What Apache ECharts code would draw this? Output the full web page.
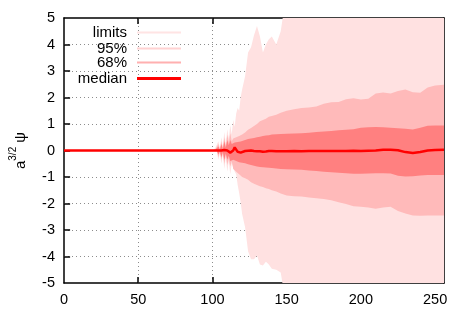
<!DOCTYPE html>
<html>
<head>
<meta charset="utf-8">
<script src="https://cdn.jsdelivr.net/npm/echarts@6/dist/echarts.min.js"></script>
<style>
  html, body { margin: 0; padding: 0; background: #fff; }
  #chart { width: 471px; height: 330px; }
</style>
</head>
<body>
<div id="chart"></div>
<script>
// x positions of the samples
const xs = [0, 100, 101, 102, 103, 104, 105, 106, 107, 108, 109, 110, 111, 112, 113, 114, 115, 116, 117, 118, 119, 120,
  122, 124, 126, 128, 130, 132, 134, 136, 138, 140, 143, 146, 150, 155, 160, 165, 170, 175, 180, 185, 190, 195, 200,
  205, 210, 215, 220, 225, 230, 235, 240, 245, 250, 256];

// limits band
const limHi = [0, 0, 0.05, 0.1, 0.05, 0.35, 0.1, 0.5, 0.15, 0.7, 0.25, 0.8, 0.45, 0.95, 0.6, 1.15, 0.9, 1.4, 1.6, 1.5, 2.0, 2.3,
  2.8, 3.7, 3.9, 4.35, 4.7, 4.3, 3.7, 4.0, 4.2, 4.3, 4.0, 4.5, 6, 6, 6, 6, 6, 6, 6, 6, 6, 6, 6,
  6, 6, 6, 6, 6, 6, 6, 6, 6, 6, 6];
const limLo = [0, 0, -0.05, -0.1, -0.05, -0.35, -0.1, -0.5, -0.15, -0.7, -0.25, -0.8, -0.4, -0.9, -0.5, -0.6, -0.8, -0.9, -1.3, -1.6, -1.95, -2.4,
  -2.9, -3.8, -4.1, -4.1, -3.96, -4.3, -4.34, -4.2, -4.3, -4.46, -4.5, -4.6, -6, -6, -6, -6, -6, -6, -6, -6, -6, -6, -6,
  -6, -6, -6, -6, -6, -6, -6, -6, -6, -6, -6];

// 95% band
const p95Hi = [0, 0, 0.02, 0.05, 0.02, 0.25, 0.05, 0.35, 0.1, 0.5, 0.15, 0.6, 0.3, 0.65, 0.35, 0.45, 0.4, 0.5, 0.45, 0.55, 0.5, 0.6,
  0.68, 0.78, 0.85, 0.92, 1.0, 1.1, 1.15, 1.2, 1.27, 1.3, 1.35, 1.42, 1.5, 1.56, 1.6, 1.62, 1.66, 1.76, 1.82, 1.83, 1.93, 1.97, 1.92,
  1.95, 2.15, 2.19, 2.15, 2.25, 2.3, 2.2, 2.18, 2.38, 2.45, 2.48];
const p95Lo = [0, 0, -0.02, -0.05, -0.02, -0.25, -0.05, -0.35, -0.1, -0.5, -0.15, -0.55, -0.3, -0.6, -0.4, -0.7, -0.75, -0.8, -0.85, -0.9, -0.95, -1.0,
  -1.05, -1.1, -1.2, -1.25, -1.3, -1.35, -1.38, -1.42, -1.45, -1.5, -1.55, -1.62, -1.7, -1.73, -1.74, -1.77, -1.8, -1.83, -1.88, -1.95, -2.02, -2.1, -2.12,
  -2.15, -2.2, -2.15, -2.12, -2.28, -2.38, -2.45, -2.46, -2.45, -2.45, -2.45];

// 68% band
const p68Hi = [0, 0, 0.01, 0.03, 0.01, 0.15, 0.03, 0.25, 0.05, 0.35, 0.1, 0.4, 0.2, 0.4, 0.25, 0.3, 0.3, 0.3, 0.32, 0.33, 0.34, 0.35,
  0.4, 0.43, 0.45, 0.47, 0.5, 0.52, 0.55, 0.57, 0.58, 0.6, 0.61, 0.62, 0.63, 0.64, 0.65, 0.67, 0.7, 0.72, 0.74, 0.76, 0.78, 0.8, 0.86,
  0.88, 0.89, 0.88, 0.86, 0.84, 0.82, 0.79, 0.86, 0.93, 0.94, 0.94];
const p68Lo = [0, 0, -0.01, -0.03, -0.01, -0.15, -0.03, -0.25, -0.05, -0.35, -0.1, -0.35, -0.2, -0.4, -0.3, -0.35, -0.38, -0.4, -0.42, -0.44, -0.45, -0.46,
  -0.48, -0.52, -0.55, -0.58, -0.6, -0.62, -0.63, -0.64, -0.65, -0.66, -0.68, -0.7, -0.71, -0.72, -0.73, -0.75, -0.77, -0.8, -0.82, -0.84, -0.86, -0.88, -0.88,
  -0.87, -0.86, -0.86, -0.87, -0.95, -0.98, -0.97, -0.94, -0.92, -0.92, -0.92];

// median
const median = [0, 0, 0, 0, 0, 0, 0.01, 0, -0.01, 0.02, 0, 0, -0.03, -0.08, -0.1, 0, 0.12, 0.05, -0.05, -0.1, -0.08, -0.03,
  -0.02, -0.01, 0, -0.02, -0.03, -0.03, -0.05, -0.04, -0.02, -0.02, -0.03, -0.03, -0.03, -0.02, -0.03, -0.02, -0.02, -0.02, -0.02, -0.02, -0.02, -0.01, -0.02,
  -0.01, 0, 0.03, 0.03, 0.01, -0.06, -0.09, -0.06, 0, 0.02, 0.03];

const xTicks = [0, 50, 100, 150, 200, 250];
const yTicks = [-5, -4, -3, -2, -1, 0, 1, 2, 3, 4, 5];
const yGrid = [-4, -3, -2, -1, 1, 2, 3, 4];

const FONT = '"Liberation Sans", Arial, sans-serif';
const colLim = '#ffe1e1', col95 = '#ffbaba', col68 = '#ff8080', colMed = '#ff0000';
const X_MIN = 0, X_MAX = 256, Y_MIN = -5, Y_MAX = 5;
const TICK_X = 4.1, TICK_Y = 0.23;   // inward tick length in axis units (about 6px)

// value first, x second, so that the stack runs along y
const yx = arr => arr.map((v, i) => [v, xs[i]]);
const yxDiff = (hi, lo) => hi.map((v, i) => [+(v - lo[i]).toFixed(3), xs[i]]);

function band(name, stack, lo, hi, color) {
  return [
    { name: stack + '_base', type: 'line', stack: stack, stackStrategy: 'all',
      encode: { x: 1, y: 0 }, data: yx(lo),
      symbol: 'none', lineStyle: { width: 0, opacity: 0 }, silent: true },
    { name: name, type: 'line', stack: stack, stackStrategy: 'all',
      encode: { x: 1, y: 0 }, data: yxDiff(hi, lo),
      symbol: 'none', lineStyle: { width: 0, opacity: 0 }, itemStyle: { color: color },
      areaStyle: { color: color, opacity: 1 }, silent: true }
  ];
}

function legendRow(name, top, color, h) {
  return {
    data: [{ name: name, itemStyle: { color: color } }],
    right: 290, top: top, padding: 0, align: 'right', orient: 'vertical',
    icon: 'rect', itemWidth: 44, itemHeight: h, selectedMode: false,
    textStyle: { fontFamily: FONT, fontSize: 15, color: '#000', padding: [0, 5, 0, 0] }
  };
}

const dotted = { color: '#8c8c8c', type: [1, 3], width: 1 };
const tickStyle = { color: '#000', type: 'solid', width: 1.5 };

// inward ticks on all four sides (gnuplot style mirrored ticks)
const tickSegs = [].concat(
  xTicks.slice(1).map(v => [{ coord: [v, Y_MIN], lineStyle: tickStyle }, { coord: [v, Y_MIN + TICK_Y] }]),
  xTicks.slice(1).map(v => [{ coord: [v, Y_MAX], lineStyle: tickStyle }, { coord: [v, Y_MAX - TICK_Y] }]),
  yTicks.slice(1, -1).map(v => [{ coord: [X_MIN, v], lineStyle: tickStyle }, { coord: [X_MIN + TICK_X, v] }]),
  yTicks.slice(1, -1).map(v => [{ coord: [X_MAX, v], lineStyle: tickStyle }, { coord: [X_MAX - TICK_X, v] }])
);

const chart = echarts.init(document.getElementById('chart'), null, { renderer: 'canvas' });
const option = {
  animation: false,
  grid: { left: 64, right: 27, top: 18, bottom: 47 },
  legend: [
    legendRow('limits', 25, '#ffe4e4', 2),
    legendRow('95%', 41, '#ffd2d2', 2),
    legendRow('68%', 55, '#ffb0b0', 2),
    legendRow('median', 71, colMed, 3)
  ],
  xAxis: [{
    type: 'value', position: 'bottom', min: X_MIN, max: X_MAX, interval: 50,
    axisLine: { onZero: false, lineStyle: { color: '#000', width: 1.5 } },
    axisTick: { show: false },
    axisLabel: { fontFamily: FONT, fontSize: 14.5, color: '#000', margin: 9,
      formatter: v => xTicks.indexOf(v) >= 0 ? String(v) : '' },
    splitLine: { show: false }
  }, {
    type: 'value', position: 'top', min: X_MIN, max: X_MAX, interval: 50,
    axisLine: { show: true, onZero: false, lineStyle: { color: '#000', width: 1.5 } },
    axisTick: { show: false }, axisLabel: { show: false }, splitLine: { show: false }
  }],
  yAxis: [{
    type: 'value', position: 'left', min: Y_MIN, max: Y_MAX, interval: 1,
    name: '{a|a}{s|3/2}{a| ψ}', nameLocation: 'middle', nameGap: 36, nameRotate: 90,
    nameTextStyle: {
      fontFamily: FONT, color: '#000',
      rich: {
        a: { fontFamily: FONT, fontSize: 15, color: '#000', verticalAlign: 'bottom', lineHeight: 20 },
        s: { fontFamily: FONT, fontSize: 10, color: '#000', verticalAlign: 'top', lineHeight: 20 }
      }
    },
    axisLine: { show: true, onZero: false, lineStyle: { color: '#000', width: 1.5 } },
    axisTick: { show: false },
    axisLabel: { fontFamily: FONT, fontSize: 14.5, color: '#000', margin: 9 },
    splitLine: { show: false }
  }, {
    type: 'value', position: 'right', min: Y_MIN, max: Y_MAX, interval: 1,
    axisLine: { show: true, onZero: false, lineStyle: { color: '#000', width: 1.5 } },
    axisTick: { show: false }, axisLabel: { show: false }, splitLine: { show: false }
  }],
  series: [
    // dotted grid and inward ticks, kept under the bands
    { name: 'grid', type: 'line', data: [], z: 1, silent: true,
      markLine: { silent: true, z: 1, symbol: 'none', label: { show: false }, lineStyle: dotted,
        emphasis: { disabled: true },
        data: xTicks.slice(1).map(v => ({ xAxis: v })).concat(yGrid.map(v => ({ yAxis: v }))).concat(tickSegs) } },
    ...band('limits', 'lim', limLo, limHi, colLim),
    ...band('95%', 'p95', p95Lo, p95Hi, col95),
    ...band('68%', 'p68', p68Lo, p68Hi, col68),
    { name: 'median', type: 'line', data: yx(median), encode: { x: 1, y: 0 }, symbol: 'none',
      lineStyle: { color: colMed, width: 2.5 }, itemStyle: { color: colMed }, z: 5 }
  ]
};
chart.setOption(option);
</script>
</body>
</html>
